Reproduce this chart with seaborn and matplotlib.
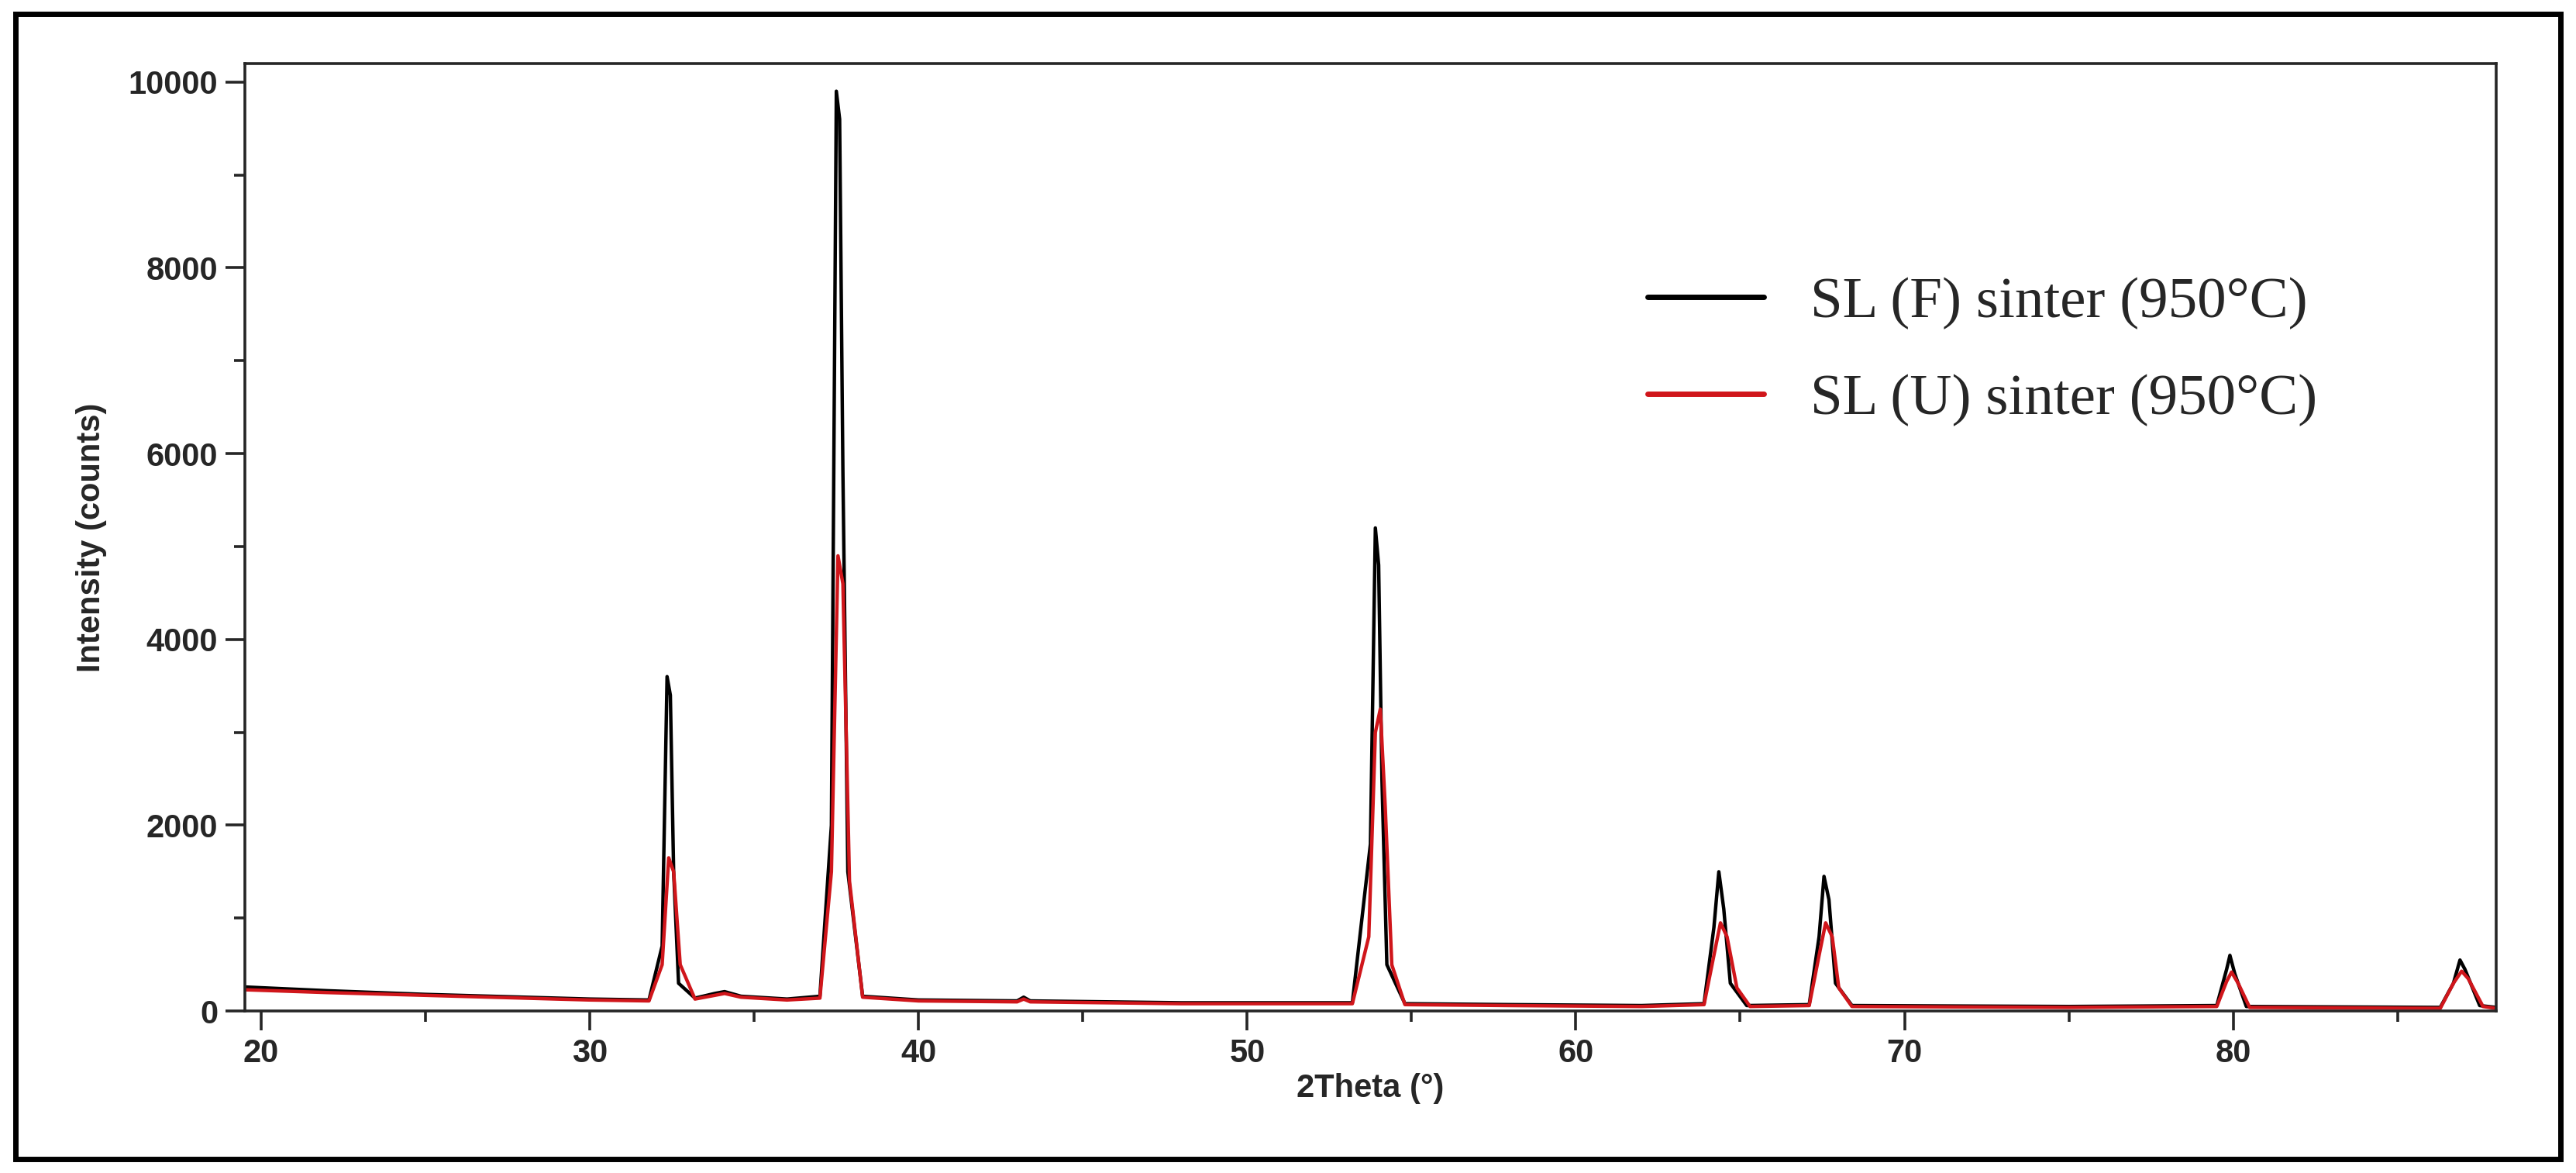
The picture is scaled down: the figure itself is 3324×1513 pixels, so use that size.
import matplotlib
matplotlib.use("Agg")
import matplotlib.pyplot as plt
import seaborn as sns
import pandas as pd
from matplotlib.ticker import MultipleLocator
from matplotlib.patches import Rectangle

# 2Theta / intensity points
theta_f = [19.5, 22, 25, 28, 30, 31.8, 32.2, 32.35, 32.45, 32.55, 32.7, 33.2, 33.8, 34.1, 34.6, 36, 37.0, 37.35, 37.5, 37.6, 37.7,
           37.85, 38.3, 40, 43, 43.2, 43.4, 48, 53.2, 53.75, 53.9, 54.0, 54.1, 54.25, 54.8, 58, 62, 63.9, 64.2, 64.35,
           64.5, 64.7, 65.2, 67.1, 67.4, 67.55, 67.7, 67.9, 68.4, 75, 79.5, 79.8, 79.9, 80.05, 80.4, 86.3, 86.7, 86.9,
           87.05, 87.5, 88]
int_f = [260, 220, 180, 150, 130, 120, 700, 3600, 3400, 1500, 300, 140, 190, 210, 160, 130, 160, 2000, 9900, 9600, 5800,
         1500, 160, 120, 110, 150, 110, 90, 90, 1800, 5200, 4800, 2500, 500, 80, 70, 60, 80, 900, 1500,
         1100, 300, 60, 70, 800, 1450, 1200, 300, 60, 50, 60, 450, 600, 400, 50, 40, 300, 550, 450, 60, 40]

theta_u = [19.5, 22, 25, 28, 30, 31.8, 32.2, 32.4, 32.55, 32.75, 33.2, 33.8, 34.1, 34.6, 36, 37.0, 37.35, 37.55, 37.7, 37.9,
           38.3, 40, 43, 43.2, 43.4, 48, 53.2, 53.7, 53.9, 54.05, 54.2, 54.4, 54.8, 58, 62, 63.9, 64.2, 64.4,
           64.6, 64.9, 65.3, 67.1, 67.4, 67.6, 67.8, 68.0, 68.4, 75, 79.5, 79.8, 79.95, 80.15, 80.5, 86.3, 86.7, 86.95,
           87.15, 87.6, 88]
int_u = [230, 200, 170, 140, 120, 110, 500, 1650, 1500, 500, 130, 170, 190, 150, 120, 140, 1500, 4900, 4600, 1400,
         150, 110, 100, 130, 100, 80, 80, 800, 3000, 3250, 2200, 500, 70, 60, 50, 70, 600, 950,
         800, 250, 50, 60, 600, 950, 800, 250, 50, 40, 50, 320, 420, 300, 40, 30, 300, 430, 350, 50, 30]

series_names = ["SL (F) sinter (950°C)", "SL (U) sinter (950°C)"]
series_colors = ["#000000", "#d0161b"]

df = pd.concat([
    pd.DataFrame({"theta": theta_f, "intensity": int_f, "sample": series_names[0]}),
    pd.DataFrame({"theta": theta_u, "intensity": int_u, "sample": series_names[1]}),
])

sns.set_style("ticks")
plt.rcParams["font.family"] = ["Liberation Sans", "DejaVu Sans"]

fig = plt.figure(figsize=(16.62, 7.565), dpi=200)
fig.patches.append(Rectangle((0.006, 0.012), 0.988, 0.976, transform=fig.transFigure,
                             fill=False, edgecolor="black", linewidth=2.5))
ax = fig.add_axes([0.095, 0.138, 0.874, 0.808])

sns.lineplot(data=df, x="theta", y="intensity", hue="sample", palette=series_colors,
             ax=ax, linewidth=1.6, sort=False, estimator=None)

ax.set_xlim(19.5, 88)
ax.set_ylim(0, 10200)
ax.xaxis.set_major_locator(MultipleLocator(10))
ax.xaxis.set_minor_locator(MultipleLocator(5))
ax.yaxis.set_major_locator(MultipleLocator(2000))
ax.yaxis.set_minor_locator(MultipleLocator(1000))
ax.tick_params(which="major", length=9, width=1.3, labelsize=15)
ax.tick_params(which="minor", length=5, width=1.3)
for lab in ax.get_xticklabels() + ax.get_yticklabels():
    lab.set_fontweight("bold")
for sp in ax.spines.values():
    sp.set_linewidth(1.3)

ax.set_xlabel("2Theta (°)", fontsize=15, fontweight="bold", labelpad=2)
ax.set_ylabel("Intensity (counts)", fontsize=15, fontweight="bold", labelpad=10)

leg = ax.legend(loc="upper left", bbox_to_anchor=(0.6, 0.83), frameon=False,
                prop={"family": "Liberation Serif", "size": 27}, handlelength=2.0,
                labelspacing=0.75)
for line in leg.get_lines():
    line.set_linewidth(2.5)

fig.savefig("out.png", dpi=200)
